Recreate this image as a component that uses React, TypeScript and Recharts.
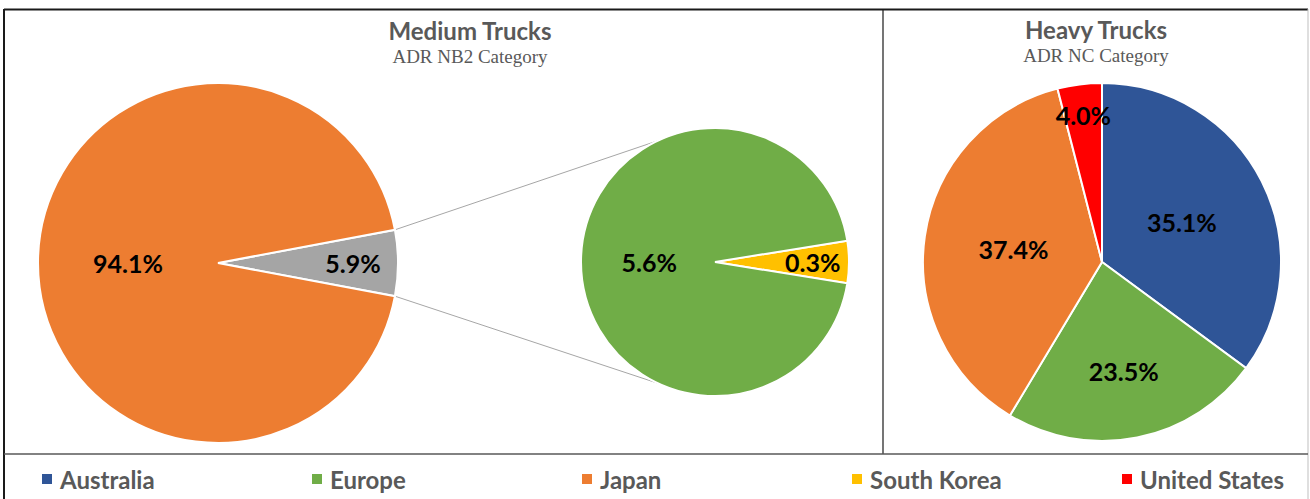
import { Cell, Customized, Pie, PieChart } from "recharts"

// Medium trucks (ADR NB2): main pie, "other" slice broken out into a second pie
const mediumCategories = ["Other", "Japan"]
const mediumValues = [5.9, 94.1]
const otherCategories = ["South Korea", "Europe"]
const otherValues = [0.3, 5.6]

// Heavy trucks (ADR NC)
const heavyCategories = ["Australia", "Europe", "Japan", "United States"]
const heavyValues = [35.1, 23.5, 37.4, 4.0]

const legendCategories = ["Australia", "Europe", "Japan", "South Korea", "United States"]

const colors: Record<string, string> = {
  Australia: "#2F5597",
  Europe: "#70AD47",
  Japan: "#ED7D31",
  "South Korea": "#FFC000",
  "United States": "#FF0000",
  Other: "#A5A5A5",
}

// label distance from centre, as a share of the radius
const mediumLabelPos = [0.75, 0.5]
const otherLabelPos = [0.73, 0.49]
const heavyLabelPos = [0.5, 0.62, 0.5, 0.83]

const W = 1310
const H = 499
const RADIAN = Math.PI / 180

const P1 = { cx: 218, cy: 263, r: 180 }
const P2 = { cx: 715, cy: 262, r: 134 }
const P3 = { cx: 1102, cy: 262, r: 179 }

const toRows = (names: string[], values: number[]) =>
  names.map((name, i) => ({ name, value: values[i] }))

const mediumData = toRows(mediumCategories, mediumValues)
const otherData = toRows(otherCategories, otherValues)
const heavyData = toRows(heavyCategories, heavyValues)

const mediumHalf = ((mediumValues[0] / (mediumValues[0] + mediumValues[1])) * 360) / 2
const otherHalf = ((otherValues[0] / (otherValues[0] + otherValues[1])) * 360) / 2

const labelFont = "Lato, 'Open Sans', sans-serif"

function makeLabel(pos: number[]) {
  return (props: any) => {
    const { cx, cy, midAngle, outerRadius, index, value } = props
    const r = outerRadius * pos[index]
    const x = cx + r * Math.cos(-midAngle * RADIAN)
    const y = cy + r * Math.sin(-midAngle * RADIAN)
    return (
      <text
        x={x}
        y={y}
        textAnchor="middle"
        dominantBaseline="central"
        fill="#000"
        fontFamily={labelFont}
        fontWeight={700}
        fontSize={25}
      >
        {`${Number(value).toFixed(1)}%`}
      </text>
    )
  }
}

function Overlay() {
  // connector lines from the broken-out slice to the secondary pie
  const a1 = mediumHalf * RADIAN
  const a2 = 115 * RADIAN
  const x1 = P1.cx + P1.r * Math.cos(a1)
  const y1top = P1.cy - P1.r * Math.sin(a1)
  const y1bot = P1.cy + P1.r * Math.sin(a1)
  const x2 = P2.cx + P2.r * Math.cos(a2)
  const y2top = P2.cy - P2.r * Math.sin(a2)
  const y2bot = P2.cy + P2.r * Math.sin(a2)
  return (
    <g>
      <line x1={x1} y1={y1top} x2={x2} y2={y2top} stroke="#A6A6A6" strokeWidth={1} />
      <line x1={x1} y1={y1bot} x2={x2} y2={y2bot} stroke="#A6A6A6" strokeWidth={1} />

      {/* frame */}
      <line x1={4} y1={9.5} x2={1308} y2={9.5} stroke="#1a1a1a" strokeWidth={2} />
      <line x1={4} y1={9} x2={4} y2={H} stroke="#1a1a1a" strokeWidth={2} />
      <line x1={1308} y1={9} x2={1308} y2={H} stroke="#BFBFBF" strokeWidth={1} />
      <line x1={883} y1={9} x2={883} y2={454} stroke="#1a1a1a" strokeWidth={1.2} />
      <line x1={4} y1={454} x2={1308} y2={454} stroke="#595959" strokeWidth={1.5} />

      {/* titles */}
      <text x={470} y={40} textAnchor="middle" fill="#595959" fontFamily={labelFont} fontWeight={700} fontSize={24}>
        Medium Trucks
      </text>
      <text x={470} y={63} textAnchor="middle" fill="#595959" fontFamily="'Liberation Serif', serif" fontSize={19}>
        ADR NB2 Category
      </text>
      <text x={1096} y={39} textAnchor="middle" fill="#595959" fontFamily={labelFont} fontWeight={700} fontSize={24}>
        Heavy Trucks
      </text>
      <text x={1096} y={62} textAnchor="middle" fill="#595959" fontFamily="'Liberation Serif', serif" fontSize={19}>
        ADR NC Category
      </text>
    </g>
  )
}

export default function App() {
  return (
    <div style={{ position: "absolute", left: 0, top: 0, width: W, height: H, background: "#fff", overflow: "hidden" }}>
      <PieChart width={W} height={H} margin={{ top: 0, right: 0, bottom: 0, left: 0 }}>
        <Pie
          data={mediumData}
          dataKey="value"
          nameKey="name"
          cx={P1.cx}
          cy={P1.cy}
          outerRadius={P1.r}
          startAngle={-mediumHalf}
          endAngle={360 - mediumHalf}
          stroke="#fff"
          strokeWidth={2}
          label={makeLabel(mediumLabelPos)}
          labelLine={false}
          isAnimationActive={false}
        >
          {mediumData.map((d) => (
            <Cell key={d.name} fill={colors[d.name]} />
          ))}
        </Pie>
        <Pie
          data={otherData}
          dataKey="value"
          nameKey="name"
          cx={P2.cx}
          cy={P2.cy}
          outerRadius={P2.r}
          startAngle={-otherHalf}
          endAngle={360 - otherHalf}
          stroke="#fff"
          strokeWidth={2}
          label={makeLabel(otherLabelPos)}
          labelLine={false}
          isAnimationActive={false}
        >
          {otherData.map((d) => (
            <Cell key={d.name} fill={colors[d.name]} />
          ))}
        </Pie>
        <Pie
          data={heavyData}
          dataKey="value"
          nameKey="name"
          cx={P3.cx}
          cy={P3.cy}
          outerRadius={P3.r}
          startAngle={90}
          endAngle={-270}
          stroke="#fff"
          strokeWidth={2}
          label={makeLabel(heavyLabelPos)}
          labelLine={false}
          isAnimationActive={false}
        >
          {heavyData.map((d) => (
            <Cell key={d.name} fill={colors[d.name]} />
          ))}
        </Pie>
        <Customized component={<Overlay />} />
      </PieChart>

      <div
        style={{
          position: "absolute",
          left: 0,
          top: 462,
          width: W,
          display: "flex",
          paddingLeft: 42,
          boxSizing: "border-box",
        }}
      >
        {legendCategories.map((name) => (
          <div key={name} style={{ width: 270, flexShrink: 0, display: "flex", alignItems: "center", height: 34 }}>
            <span style={{ width: 10, height: 10, background: colors[name], marginRight: 8, flexShrink: 0 }} />
            <span style={{ fontFamily: labelFont, fontWeight: 700, fontSize: 24, color: "#595959", whiteSpace: "nowrap" }}>
              {name}
            </span>
          </div>
        ))}
      </div>
    </div>
  )
}
